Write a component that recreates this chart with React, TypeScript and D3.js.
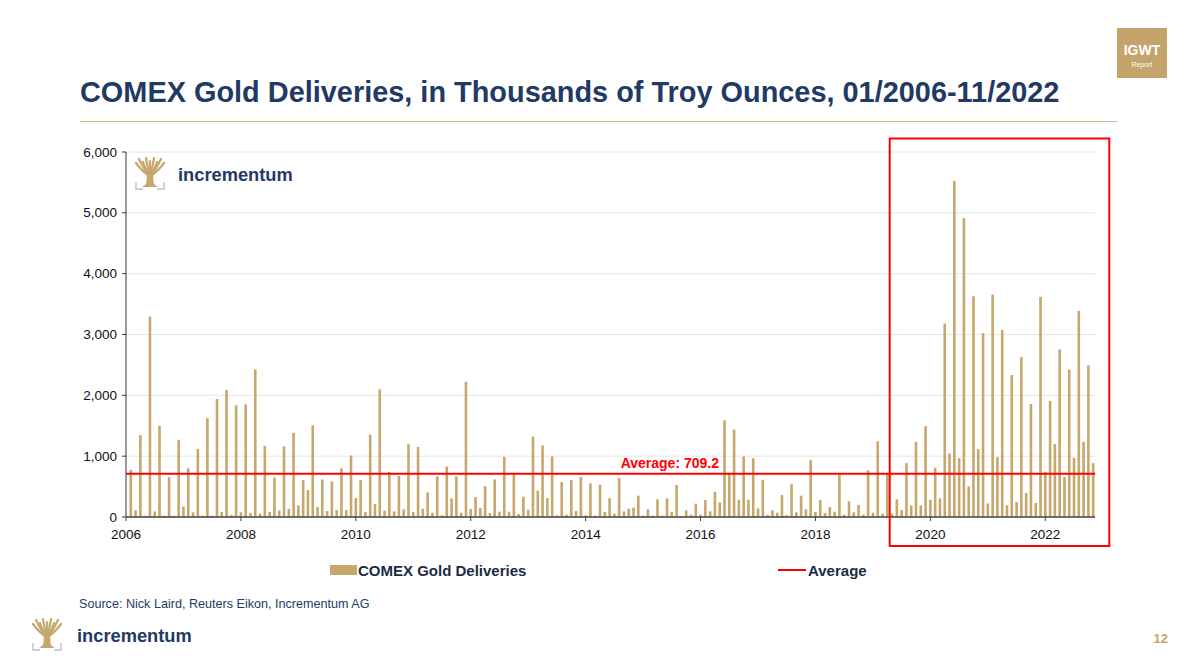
import React from "react";
import * as d3 from "d3";

// Monthly COMEX gold deliveries (thousand troy oz), first bar = 01/2006
const startYear = 2006;
const deliveries2006to2009 = [
  775, 110, 1345, 20, 3295, 90, 1500, 20, 655, 20, 1270, 170,
  800, 77, 1120, 20, 1623, 20, 1940, 82, 2087, 33, 1836, 77,
  1852, 66, 2426, 55, 1169, 82, 650, 109, 1158, 131, 1383, 191,
  607, 443, 1508, 164, 617, 98, 585, 115, 798, 115, 1011, 311,
];
const deliveries2010to2013 = [
  607, 82, 1355, 213, 2098, 104, 738, 93, 672, 126, 1197, 82,
  1153, 137, 404, 71, 667, 27, 831, 306, 667, 71, 2224, 131,
  328, 148, 508, 66, 617, 87, 989, 87, 721, 49, 333, 120,
  1322, 432, 1175, 311, 995, 27, 574, 38, 607, 98, 656, 27,
];
const deliveries2014to2017 = [
  552, 22, 530, 82, 311, 55, 639, 93, 137, 153, 350, 22,
  126, 22, 290, 22, 306, 87, 525, 16, 109, 38, 219, 38,
  279, 93, 415, 240, 1590, 705, 1437, 284, 995, 284, 967, 142,
  612, 33, 109, 71, 361, 33, 541, 77, 350, 126, 934, 82,
];
const deliveries2018to2022 = [
  279, 66, 164, 87, 699, 38, 257, 77, 197, 38, 765, 71,
  1246, 55, 721, 55, 290, 115, 885, 191, 1235, 191, 1492, 284,
  809, 306, 3180, 1044, 5525, 967, 4913, 503, 3628, 1115, 3022, 224,
  3656, 984, 3077, 191, 2333, 246, 2628, 393, 1858, 230, 3617, 738,
  1907, 1197, 2754, 656, 2421, 973, 3388, 1235, 2497, 885,
];
const deliveries = [
  ...deliveries2006to2009,
  ...deliveries2010to2013,
  ...deliveries2014to2017,
  ...deliveries2018to2022,
];
const averageValue = 709.2;
const yearTicks = ["2006", "2008", "2010", "2012", "2014", "2016", "2018", "2020", "2022"];
const valueTicks = [0, 1000, 2000, 3000, 4000, 5000, 6000];

const NAVY = "#1F3A64";
const GOLD = "#C6A76C";
const RED = "#FF0000";
const FONT = "'Liberation Sans', Arial, Helvetica, sans-serif";

function TreeIcon({ x, y }: { x: number; y: number }) {
  const tips = [
    [1, 6], [4, 2], [8, 5], [11, 1], [15, 4], [19, 1], [22, 5], [26, 2], [29, 6],
  ];
  return (
    <g transform={`translate(${x},${y})`}>
      {tips.map(([tx, ty], i) => (
        <path
          key={i}
          d={`M15,19 Q${(15 + tx) / 2},${(19 + ty) / 2 + 3} ${tx},${ty}`}
          fill="none"
          stroke={GOLD}
          strokeWidth={2.2}
          strokeLinecap="round"
        />
      ))}
      <path d="M12,15 L18,15 L18.5,25 Q19,28 23,30 L7,30 Q11,28 11.5,25 Z" fill={GOLD} />
      <path d="M1,25 V32 H8" fill="none" stroke="#CFCFCF" strokeWidth={1.8} />
      <path d="M29,25 V32 H22" fill="none" stroke="#CFCFCF" strokeWidth={1.8} />
    </g>
  );
}

export default function App() {
  const x = d3.scaleLinear().domain([0, 192]).range([126, 1045.3]);
  const y = d3.scaleLinear().domain([0, 6000]).range([517, 152]);
  const xEnd = x(202.4);
  const barW = 2.6;

  return (
    <svg
      width={1200}
      height={667}
      style={{ position: "absolute", left: 0, top: 0, background: "#fff" }}
      fontFamily={FONT}
    >
      <rect x={0} y={0} width={1200} height={667} fill="#fff" />

      {/* IGWT badge */}
      <rect x={1117} y={28} width={50} height={50} fill="#C4A46A" />
      <text x={1142} y={55} textAnchor="middle" fill="#fff" fontWeight="bold" fontSize={14}>
        IGWT
      </text>
      <text x={1142} y={67} textAnchor="middle" fill="#fff" fontSize={7}>
        Report
      </text>

      {/* Title */}
      <text x={80} y={102} fill={NAVY} fontWeight="bold" fontSize={28.9}>
        COMEX Gold Deliveries, in Thousands of Troy Ounces, 01/2006-11/2022
      </text>
      <line x1={80} x2={1117} y1={121.5} y2={121.5} stroke="#CDB98F" strokeWidth={1} />

      {/* gridlines */}
      {valueTicks.map((v) => (
        <line key={v} x1={126} x2={xEnd} y1={y(v)} y2={y(v)} stroke="#E6E6E6" strokeWidth={1} />
      ))}

      {/* logo in plot */}
      <TreeIcon x={135} y={157} />
      <text x={178} y={181} fill={NAVY} fontWeight="bold" fontSize={18.3}>
        incrementum
      </text>

      {/* bars */}
      {deliveries.map((v, i) => (
        <rect
          key={i}
          x={x(i + 1) - barW / 2}
          y={y(v)}
          width={barW}
          height={y(0) - y(v)}
          fill={GOLD}
        />
      ))}

      {/* y axis */}
      <line x1={126} x2={126} y1={y(6000)} y2={y(0)} stroke="#333" strokeWidth={1} />
      {valueTicks.map((v) => (
        <g key={v}>
          <line x1={122} x2={126} y1={y(v)} y2={y(v)} stroke="#333" strokeWidth={1} />
          <text x={117} y={y(v) + 4.5} textAnchor="end" fontSize={13.5} fill="#111">
            {d3.format(",")(v)}
          </text>
        </g>
      ))}

      {/* x axis */}
      <line x1={126} x2={xEnd} y1={y(0)} y2={y(0)} stroke="#444" strokeWidth={1.5} />
      {yearTicks.map((t, k) => {
        const tx = x((+t - startYear) * 12);
        return (
          <g key={t}>
            <line x1={tx} x2={tx} y1={y(0)} y2={y(0) + 4} stroke="#444" strokeWidth={1} />
            <text x={tx} y={539} textAnchor="middle" fontSize={13.5} fill="#111">
              {t}
            </text>
          </g>
        );
      })}

      {/* average line */}
      <line
        x1={126}
        x2={xEnd}
        y1={y(averageValue)}
        y2={y(averageValue)}
        stroke={RED}
        strokeWidth={2}
      />
      <text x={719} y={468} textAnchor="end" fill={RED} fontWeight="bold" fontSize={14}>
        {`Average: ${averageValue}`}
      </text>

      {/* highlight rectangle */}
      <rect x={889.7} y={138.5} width={219.6} height={407.5} fill="none" stroke={RED} strokeWidth={2} />

      {/* legend */}
      <rect x={330} y={565} width={27} height={10} fill={GOLD} />
      <text x={358} y={576} fontWeight="bold" fontSize={15} fill="#1C2B45">
        COMEX Gold Deliveries
      </text>
      <line x1={778} x2={806} y1={570} y2={570} stroke={RED} strokeWidth={2} />
      <text x={808} y={576} fontWeight="bold" fontSize={15} fill="#1C2B45">
        Average
      </text>

      {/* footer */}
      <text x={79} y={608} fontSize={12.6} fill={NAVY}>
        Source: Nick Laird, Reuters Eikon, Incrementum AG
      </text>
      <TreeIcon x={32} y={618} />
      <text x={77} y={642} fill={NAVY} fontWeight="bold" fontSize={18.3}>
        incrementum
      </text>
      <text x={1168} y={643} textAnchor="end" fill="#C4A46A" fontWeight="bold" fontSize={13}>
        12
      </text>
    </svg>
  );
}
